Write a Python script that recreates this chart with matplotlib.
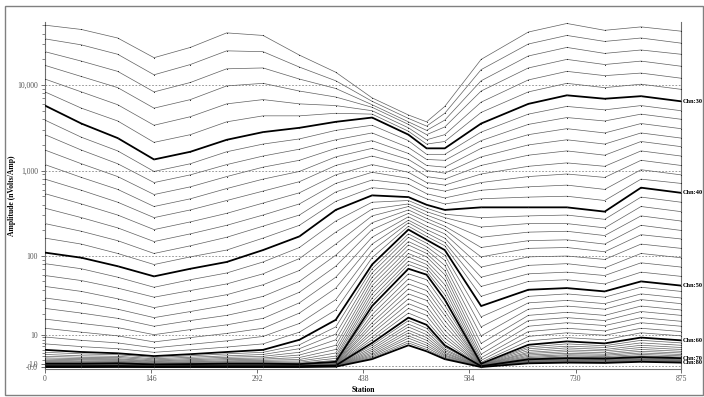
import numpy as np
import matplotlib
matplotlib.use("Agg")
import matplotlib.pyplot as plt
import matplotlib.transforms as mtransforms
from matplotlib.patches import Rectangle

# station positions of the readings
stations = [0, 50, 100, 150, 200, 250, 300, 350, 400, 450,
            500, 525, 550, 600, 665, 718, 770, 820, 875]

# amplitude per channel, stored as log10(nV/A), one row per channel
chn24_30 = [
    [4.70, 4.65, 4.55, 4.32, 4.44, 4.61, 4.58, 4.35, 4.15, 3.85, 3.65, 3.57, 3.75, 4.30, 4.62, 4.72, 4.64, 4.68, 4.63],
    [4.54, 4.47, 4.36, 4.12, 4.24, 4.40, 4.39, 4.21, 4.05, 3.81, 3.61, 3.52, 3.67, 4.18, 4.48, 4.58, 4.51, 4.55, 4.49],
    [4.39, 4.28, 4.16, 3.92, 4.03, 4.19, 4.20, 4.07, 3.96, 3.77, 3.57, 3.47, 3.59, 4.05, 4.34, 4.44, 4.37, 4.41, 4.36],
    [4.23, 4.10, 3.97, 3.73, 3.83, 3.99, 4.02, 3.93, 3.86, 3.74, 3.54, 3.42, 3.51, 3.93, 4.20, 4.30, 4.24, 4.28, 4.22],
    [4.07, 3.92, 3.77, 3.53, 3.63, 3.78, 3.83, 3.78, 3.76, 3.70, 3.50, 3.36, 3.42, 3.80, 4.06, 4.16, 4.11, 4.14, 4.08],
    [3.92, 3.73, 3.58, 3.33, 3.42, 3.57, 3.64, 3.64, 3.67, 3.66, 3.46, 3.31, 3.34, 3.68, 3.92, 4.02, 3.97, 4.01, 3.95],
    [3.76, 3.55, 3.38, 3.13, 3.22, 3.36, 3.45, 3.50, 3.57, 3.62, 3.42, 3.26, 3.26, 3.55, 3.78, 3.88, 3.84, 3.87, 3.81],
]
chn31_40 = [
    [3.59, 3.39, 3.23, 2.99, 3.08, 3.22, 3.31, 3.37, 3.47, 3.53, 3.35, 3.19, 3.19, 3.45, 3.66, 3.75, 3.71, 3.76, 3.70],
    [3.42, 3.24, 3.08, 2.86, 2.95, 3.07, 3.17, 3.25, 3.36, 3.44, 3.27, 3.13, 3.12, 3.35, 3.54, 3.62, 3.58, 3.66, 3.60],
    [3.24, 3.08, 2.93, 2.72, 2.81, 2.93, 3.04, 3.12, 3.26, 3.35, 3.20, 3.06, 3.04, 3.26, 3.42, 3.49, 3.44, 3.55, 3.49],
    [3.07, 2.92, 2.78, 2.58, 2.67, 2.79, 2.90, 2.99, 3.16, 3.26, 3.13, 3.00, 2.97, 3.16, 3.30, 3.36, 3.31, 3.44, 3.38],
    [2.90, 2.77, 2.63, 2.45, 2.54, 2.65, 2.76, 2.87, 3.06, 3.17, 3.06, 2.93, 2.90, 3.06, 3.18, 3.23, 3.18, 3.34, 3.28],
    [2.73, 2.61, 2.48, 2.31, 2.40, 2.50, 2.62, 2.74, 2.95, 3.07, 2.98, 2.86, 2.83, 2.96, 3.05, 3.09, 3.05, 3.23, 3.17],
    [2.56, 2.45, 2.33, 2.17, 2.26, 2.36, 2.48, 2.61, 2.85, 2.98, 2.91, 2.80, 2.76, 2.86, 2.93, 2.96, 2.92, 3.12, 3.06],
    [2.38, 2.29, 2.18, 2.03, 2.12, 2.22, 2.35, 2.48, 2.75, 2.89, 2.84, 2.73, 2.68, 2.77, 2.81, 2.83, 2.78, 3.01, 2.95],
    [2.21, 2.14, 2.03, 1.90, 1.99, 2.07, 2.21, 2.36, 2.64, 2.80, 2.76, 2.67, 2.61, 2.67, 2.69, 2.70, 2.65, 2.90, 2.85],
    [2.04, 1.98, 1.88, 1.76, 1.85, 1.93, 2.07, 2.23, 2.54, 2.71, 2.69, 2.60, 2.54, 2.57, 2.57, 2.57, 2.52, 2.80, 2.74],
]
chn41_50 = [
    [1.91, 1.85, 1.75, 1.63, 1.72, 1.80, 1.93, 2.10, 2.41, 2.63, 2.65, 2.56, 2.49, 2.45, 2.47, 2.48, 2.43, 2.69, 2.63],
    [1.77, 1.71, 1.62, 1.51, 1.59, 1.67, 1.79, 1.97, 2.28, 2.55, 2.61, 2.52, 2.45, 2.34, 2.38, 2.38, 2.33, 2.58, 2.52],
    [1.64, 1.58, 1.49, 1.38, 1.46, 1.54, 1.66, 1.83, 2.14, 2.47, 2.58, 2.48, 2.40, 2.22, 2.28, 2.29, 2.24, 2.47, 2.41],
    [1.50, 1.44, 1.36, 1.25, 1.33, 1.41, 1.52, 1.70, 2.01, 2.39, 2.54, 2.44, 2.35, 2.10, 2.18, 2.19, 2.14, 2.36, 2.30],
    [1.37, 1.31, 1.24, 1.13, 1.21, 1.28, 1.38, 1.57, 1.88, 2.31, 2.50, 2.40, 2.31, 1.99, 2.09, 2.10, 2.05, 2.25, 2.20],
    [1.23, 1.17, 1.11, 1.00, 1.08, 1.15, 1.24, 1.44, 1.75, 2.22, 2.46, 2.35, 2.26, 1.87, 1.99, 2.00, 1.96, 2.14, 2.09],
    [1.10, 1.04, 0.98, 0.87, 0.95, 1.02, 1.10, 1.31, 1.62, 2.14, 2.42, 2.31, 2.21, 1.75, 1.89, 1.91, 1.86, 2.03, 1.98],
    [0.96, 0.90, 0.85, 0.74, 0.82, 0.89, 0.97, 1.17, 1.48, 2.06, 2.39, 2.27, 2.16, 1.64, 1.79, 1.81, 1.77, 1.92, 1.87],
    [0.83, 0.77, 0.72, 0.62, 0.69, 0.76, 0.83, 1.04, 1.35, 1.98, 2.35, 2.23, 2.12, 1.52, 1.70, 1.72, 1.67, 1.81, 1.76],
    [0.69, 0.63, 0.59, 0.49, 0.56, 0.63, 0.69, 0.91, 1.22, 1.90, 2.31, 2.19, 2.07, 1.40, 1.60, 1.62, 1.58, 1.70, 1.65],
]
chn51_60 = [
    [0.62, 0.57, 0.54, 0.43, 0.50, 0.57, 0.62, 0.81, 1.12, 1.85, 2.26, 2.15, 2.01, 1.26, 1.52, 1.55, 1.51, 1.63, 1.58],
    [0.55, 0.50, 0.48, 0.37, 0.44, 0.50, 0.55, 0.72, 1.01, 1.80, 2.22, 2.11, 1.95, 1.12, 1.44, 1.47, 1.43, 1.55, 1.50],
    [0.48, 0.44, 0.43, 0.31, 0.38, 0.44, 0.48, 0.62, 0.91, 1.75, 2.17, 2.07, 1.89, 0.98, 1.36, 1.40, 1.36, 1.48, 1.43],
    [0.41, 0.38, 0.37, 0.25, 0.32, 0.38, 0.41, 0.53, 0.80, 1.70, 2.13, 2.03, 1.83, 0.84, 1.28, 1.32, 1.28, 1.40, 1.35],
    [0.35, 0.32, 0.32, 0.20, 0.26, 0.32, 0.35, 0.43, 0.70, 1.65, 2.08, 1.99, 1.78, 0.70, 1.21, 1.25, 1.21, 1.33, 1.28],
    [0.28, 0.25, 0.26, 0.14, 0.19, 0.25, 0.28, 0.33, 0.60, 1.60, 2.03, 1.94, 1.72, 0.56, 1.13, 1.18, 1.14, 1.25, 1.20],
    [0.21, 0.19, 0.21, 0.08, 0.13, 0.19, 0.21, 0.24, 0.49, 1.55, 1.99, 1.90, 1.66, 0.42, 1.05, 1.10, 1.06, 1.18, 1.13],
    [0.14, 0.13, 0.15, 0.02, 0.07, 0.13, 0.14, 0.14, 0.39, 1.50, 1.94, 1.86, 1.60, 0.28, 0.97, 1.03, 0.99, 1.10, 1.05],
    [0.07, 0.06, 0.10, -0.04, 0.01, 0.06, 0.07, 0.05, 0.28, 1.45, 1.90, 1.82, 1.54, 0.14, 0.89, 0.95, 0.91, 1.03, 0.98],
    [0.00, 0.00, 0.04, -0.10, -0.05, 0.00, 0.00, -0.05, 0.18, 1.40, 1.85, 1.78, 1.48, 0.00, 0.81, 0.88, 0.84, 0.95, 0.90],
]
chn61_70 = [
    [-0.05, -0.05, -0.01, -0.15, -0.10, -0.05, -0.05, -0.10, 0.13, 1.35, 1.79, 1.72, 1.41, -0.05, 0.76, 0.83, 0.79, 0.90, 0.85],
    [-0.10, -0.10, -0.06, -0.20, -0.14, -0.10, -0.10, -0.14, 0.08, 1.29, 1.73, 1.65, 1.34, -0.10, 0.72, 0.78, 0.75, 0.85, 0.80],
    [-0.15, -0.15, -0.11, -0.25, -0.19, -0.15, -0.15, -0.19, 0.04, 1.24, 1.67, 1.59, 1.28, -0.15, 0.67, 0.74, 0.70, 0.80, 0.75],
    [-0.20, -0.20, -0.16, -0.30, -0.23, -0.20, -0.20, -0.23, -0.01, 1.18, 1.61, 1.53, 1.21, -0.20, 0.62, 0.69, 0.66, 0.75, 0.70],
    [-0.25, -0.25, -0.21, -0.35, -0.28, -0.25, -0.25, -0.28, -0.06, 1.13, 1.55, 1.47, 1.14, -0.25, 0.58, 0.64, 0.61, 0.70, 0.65],
    [-0.30, -0.30, -0.25, -0.40, -0.32, -0.30, -0.30, -0.32, -0.11, 1.07, 1.49, 1.40, 1.07, -0.30, 0.53, 0.59, 0.56, 0.65, 0.60],
    [-0.35, -0.35, -0.30, -0.45, -0.37, -0.35, -0.35, -0.37, -0.16, 1.02, 1.43, 1.34, 1.00, -0.35, 0.48, 0.54, 0.52, 0.60, 0.55],
    [-0.40, -0.40, -0.35, -0.50, -0.41, -0.40, -0.40, -0.41, -0.20, 0.96, 1.37, 1.28, 0.94, -0.40, 0.43, 0.50, 0.47, 0.55, 0.50],
    [-0.45, -0.45, -0.40, -0.55, -0.46, -0.45, -0.45, -0.46, -0.25, 0.91, 1.31, 1.21, 0.87, -0.45, 0.39, 0.45, 0.43, 0.50, 0.45],
    [-0.50, -0.50, -0.45, -0.60, -0.50, -0.50, -0.50, -0.50, -0.30, 0.85, 1.25, 1.15, 0.80, -0.50, 0.34, 0.40, 0.38, 0.45, 0.40],
]
chn71_80 = [
    [-0.55, -0.55, -0.50, -0.64, -0.55, -0.55, -0.55, -0.55, -0.34, 0.80, 1.21, 1.10, 0.76, -0.55, 0.31, 0.37, 0.35, 0.42, 0.37],
    [-0.60, -0.60, -0.54, -0.68, -0.60, -0.60, -0.60, -0.60, -0.38, 0.75, 1.16, 1.05, 0.71, -0.60, 0.28, 0.34, 0.32, 0.40, 0.34],
    [-0.65, -0.65, -0.59, -0.72, -0.65, -0.65, -0.65, -0.65, -0.42, 0.70, 1.12, 1.00, 0.67, -0.65, 0.25, 0.31, 0.29, 0.37, 0.31],
    [-0.70, -0.70, -0.64, -0.76, -0.70, -0.70, -0.70, -0.70, -0.46, 0.65, 1.07, 0.95, 0.62, -0.70, 0.22, 0.28, 0.26, 0.34, 0.28],
    [-0.75, -0.75, -0.69, -0.80, -0.75, -0.75, -0.75, -0.75, -0.50, 0.60, 1.03, 0.90, 0.58, -0.75, 0.19, 0.26, 0.23, 0.32, 0.26],
    [-0.80, -0.80, -0.73, -0.84, -0.80, -0.80, -0.80, -0.80, -0.54, 0.55, 0.98, 0.85, 0.53, -0.80, 0.16, 0.23, 0.20, 0.29, 0.23],
    [-0.85, -0.85, -0.78, -0.88, -0.85, -0.85, -0.85, -0.85, -0.58, 0.50, 0.94, 0.80, 0.49, -0.85, 0.13, 0.20, 0.17, 0.26, 0.20],
    [-0.90, -0.90, -0.83, -0.92, -0.90, -0.90, -0.90, -0.90, -0.62, 0.45, 0.89, 0.75, 0.44, -0.90, 0.10, 0.17, 0.14, 0.23, 0.17],
    [-0.95, -0.95, -0.87, -0.96, -0.95, -0.95, -0.95, -0.95, -0.66, 0.40, 0.85, 0.70, 0.40, -0.95, 0.07, 0.14, 0.11, 0.21, 0.14],
    [-1.00, -1.00, -0.92, -1.00, -1.00, -1.00, -1.00, -1.00, -0.70, 0.35, 0.80, 0.65, 0.35, -1.00, 0.04, 0.11, 0.08, 0.18, 0.11],
]

first_channel = 24
y_ticks = [10000, 1000, 100, 10, 1.0, 0.0]
y_ticklabels = ["10,000", "1,000", "100", "10", "1.0", "-0.0"]
x_ticks = [0, 146, 292, 438, 584, 730, 875]

serif = ["Liberation Serif", "DejaVu Serif"]


def fwd(v):
    # linear near zero, logarithmic above ~10
    return np.arcsinh(np.asarray(v, dtype=float) / 10.0)


def inv(u):
    return 10.0 * np.sinh(u)


fig = plt.figure(figsize=(7.04, 3.97), dpi=100)
fig.patch.set_facecolor("white")
# outer frame of the exported view
fig.add_artist(Rectangle((5 / 704, 2 / 397), 698 / 704, 389 / 397,
                         transform=fig.transFigure, fill=False,
                         edgecolor="#808080", lw=1.0))

ax = fig.add_axes([45 / 704, 28.5 / 397, 636 / 704, 346.5 / 397])
ax.set_yscale("function", functions=(fwd, inv))
ax.set_xlim(0, 875)
ax.set_ylim(-0.3, 54600)
lab_tr = mtransforms.blended_transform_factory(ax.transAxes, ax.transData)

rows = chn24_30 + chn31_40 + chn41_50 + chn51_60 + chn61_70 + chn71_80
for k, logs in enumerate(rows):
    ch = first_channel + k
    vals = 10.0 ** np.array(logs)
    thick = ch % 10 == 0
    ax.plot(stations, vals, color="black" if thick else "#606060",
            lw=1.3 if thick else 0.5, zorder=3 if thick else 2)
    ax.plot(stations, vals, ls="none", marker="o", ms=0.8, mew=0,
            color="#222222", zorder=4)
    if thick:
        ax.text(1.002, vals[-1], "Chn:%d" % ch, transform=lab_tr,
                fontsize=4.6, fontweight="bold", family=serif,
                va="center", ha="left", clip_on=False)

# dotted grid lines at the labelled levels
for yv in [10000, 1000, 100, 10, 0.3]:
    ax.axhline(yv, color="#888888", lw=0.6, ls=(0, (2, 2)), zorder=1)

ax.set_yticks(y_ticks)
ax.set_yticklabels(y_ticklabels)
minor = [m * d for d in [1, 10, 100, 1000, 10000] for m in range(2, 10)]
ax.set_yticks([v for v in minor if v < 54600], minor=True)
ax.set_xticks(x_ticks)
ax.set_xticklabels([str(x) for x in x_ticks])

for lab in ax.get_xticklabels() + ax.get_yticklabels():
    lab.set_family(serif)
    lab.set_fontsize(5.5)
    lab.set_color("#555555")

ax.tick_params(axis="both", which="major", length=3, width=0.6, color="#555555", pad=2)
ax.tick_params(axis="y", which="minor", length=2, width=0.5, color="#555555")
ax.spines["top"].set_visible(False)
for s in ["left", "bottom", "right"]:
    ax.spines[s].set_color("#707070")
    ax.spines[s].set_linewidth(0.8)

ax.set_xlabel("Station", family=serif, fontsize=5.5, fontweight="bold", labelpad=2)
ax.set_ylabel("Amplitude (nVolts/Amp)", family=serif, fontsize=5.5, fontweight="bold")
ax.yaxis.set_label_coords(-29 / 636, 0.5)

fig.savefig("out.png", dpi=100)
